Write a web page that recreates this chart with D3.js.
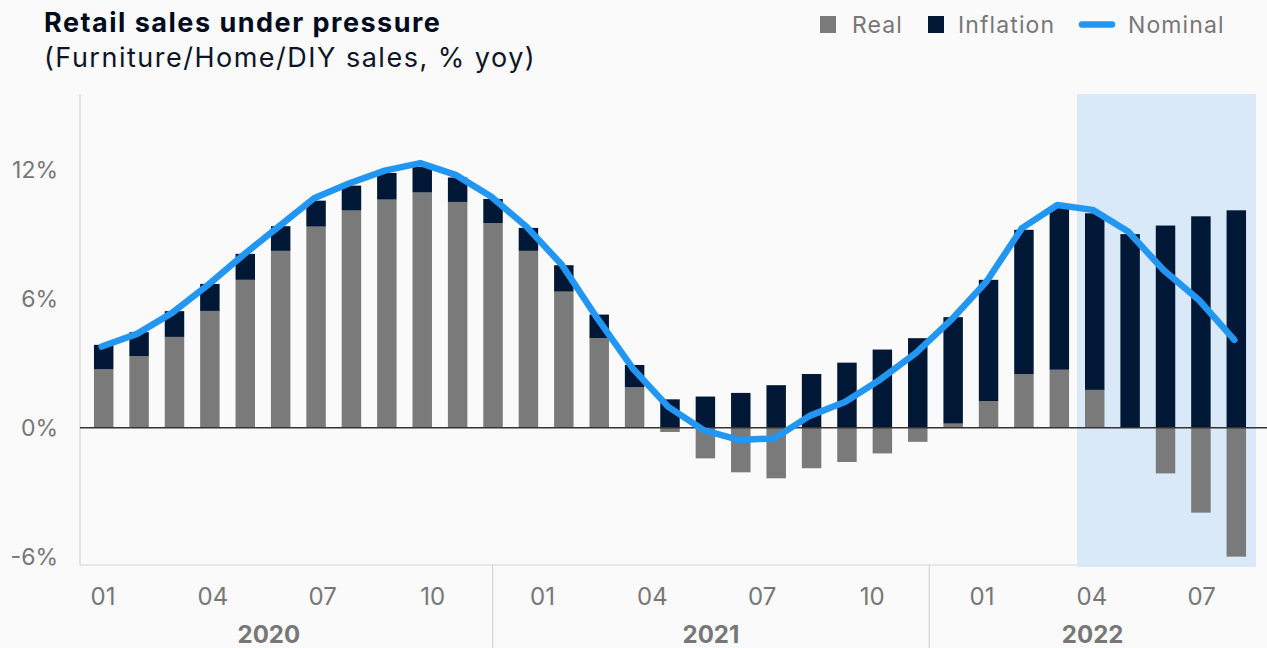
<!DOCTYPE html>
<html>
<head>
<meta charset="utf-8">
<script src="https://cdn.jsdelivr.net/npm/d3@7"></script>
<style>
  body { margin: 0; background: #fafafa; }
  svg { display: block; font-family: Inter, "Noto Sans", sans-serif; }
</style>
</head>
<body>
<div id="chart"></div>
<script>
// --- data ----------------------------------------------------------------
// bars: one per month, the last five sit in the shaded window
var barIdx = d3.range(33);
var real = [2.72, 3.33, 4.23, 5.44, 6.89, 8.24, 9.37, 10.12, 10.63, 10.96, 10.52, 9.53,
            8.24, 6.34, 4.18, 1.88, -0.2, -1.43, -2.08, -2.36, -1.89, -1.6, -1.2, -0.66,
            0.19, 1.24, 2.49, 2.70, 1.76, 0.0, -2.13, -3.96, -6.01];
var inflation = [1.14, 1.12, 1.20, 1.26, 1.21, 1.15, 1.21, 1.16, 1.24, 1.20, 1.14, 1.13,
                 1.07, 1.23, 1.09, 1.04, 1.32, 1.45, 1.62, 1.98, 2.50, 3.03, 3.64, 4.17,
                 4.96, 5.65, 6.73, 7.57, 8.23, 9.02, 9.42, 9.85, 10.13];
var nominal = [3.78, 4.37, 5.36, 6.65, 8.05, 9.37, 10.69, 11.39, 11.98, 12.33, 11.78, 10.77,
               9.37, 7.59, 5.10, 2.77, 0.98, -0.11, -0.57, -0.5, 0.55, 1.2, 2.25, 3.47,
               5.02, 6.81, 9.30, 10.38, 10.15, 9.14, 7.35, 5.95, 4.09];
var shadeFrom = 28;

// axis labels
var monthTicks = [0, 3, 6, 9, 12, 15, 18, 21, 24, 27, 30];
var monthLabels = ["01", "04", "07", "10", "01", "04", "07", "10", "01", "04", "07"];
var years = ["2020", "2021", "2022"];
var yearBreaks = [10.64, 22.56];   // in months from 2020-01, as drawn in the source
var yTicks = [-6, 0, 6, 12];

var W = 1267, H = 648;
var mLeft = 80, mTop = 94, mBottom = 565, plotRight = 1256;

var svg = d3.select("#chart").append("svg")
  .attr("width", W).attr("height", H);

svg.append("rect").attr("width", W).attr("height", H).style("fill", "#fafafa");

var x = d3.scaleBand().domain(barIdx).range([86, 1254])
  .paddingInner(0.45).paddingOuter(0.225);
var xm = d3.scaleLinear().domain([0, 30]).range([103, 1201.7]);
var y = d3.scaleLinear().domain([-6.4, 15.55]).range([mBottom, mTop]);

var shadeX = x(shadeFrom) - x.step() * x.paddingInner() / 2;

// axis frame (left + bottom)
svg.append("line")
  .attr("x1", mLeft).attr("y1", mTop).attr("x2", mLeft).attr("y2", mBottom)
  .style("stroke", "#d4d4d4").style("stroke-width", 1.2);
svg.append("line")
  .attr("x1", mLeft).attr("y1", mBottom).attr("x2", plotRight).attr("y2", mBottom)
  .style("stroke", "#d4d4d4").style("stroke-width", 1.2);

// shaded window
svg.append("rect")
  .attr("x", shadeX)
  .attr("y", mTop)
  .attr("width", plotRight - shadeX)
  .attr("height", mBottom + 2 - mTop)
  .style("fill", "#d9e9f8");

// year separators
yearBreaks.forEach(function(m) {
  svg.append("line")
    .attr("x1", xm(m)).attr("y1", mBottom).attr("x2", xm(m)).attr("y2", H)
    .style("stroke", "#d4d4d4").style("stroke-width", 1.2);
});

// bars: real from zero, inflation stacked on top of positive real (or from zero)
var bars = svg.append("g");
barIdx.forEach(function(i) {
  var r = real[i], inf = inflation[i];
  var base = Math.max(r, 0);
  bars.append("rect")
    .attr("x", x(i)).attr("width", x.bandwidth())
    .attr("y", y(Math.max(r, 0))).attr("height", Math.abs(y(r) - y(0)))
    .style("fill", "#7a7a7a");
  bars.append("rect")
    .attr("x", x(i)).attr("width", x.bandwidth())
    .attr("y", y(base + inf)).attr("height", y(base) - y(base + inf))
    .style("fill", "#001836");
});

// zero line
svg.append("line")
  .attr("x1", mLeft).attr("y1", y(0)).attr("x2", W).attr("y2", y(0))
  .style("stroke", "#333333").style("stroke-width", 1.5);

// nominal line
var line = d3.line()
  .x(function(d, i) { return x(i) + x.bandwidth() / 2 - 2; })
  .y(function(d) { return y(d); });
svg.append("path")
  .datum(nominal)
  .attr("d", line)
  .style("fill", "none")
  .style("stroke", "#2196f3")
  .style("stroke-width", 6.5)
  .style("stroke-linejoin", "round")
  .style("stroke-linecap", "round");

// y tick labels
svg.selectAll(".ytick").data(yTicks).enter().append("text")
  .attr("x", 58).attr("y", function(d) { return y(d); })
  .attr("dy", "0.36em")
  .attr("text-anchor", "end")
  .style("font-size", "23px").style("fill", "#777777")
  .text(function(d) { return d + "%"; });

// month labels
svg.selectAll(".mtick").data(monthTicks).enter().append("text")
  .attr("x", function(d) { return xm(d); }).attr("y", 605)
  .attr("text-anchor", "middle")
  .style("font-size", "24px").style("fill", "#777777")
  .text(function(d, i) { return monthLabels[i]; });

// year labels, centred between separators
var yearEdges = [45, xm(yearBreaks[0]), xm(yearBreaks[1]), plotRight];
years.forEach(function(yr, i) {
  svg.append("text")
    .attr("x", (yearEdges[i] + yearEdges[i + 1]) / 2).attr("y", 643)
    .attr("text-anchor", "middle")
    .style("font-size", "24px").style("font-weight", "bold").style("fill", "#777777")
    .text(yr);
});

// title
svg.append("text").attr("x", 44).attr("y", 32)
  .style("font-size", "27px").style("font-weight", "bold").style("fill", "#000c1e")
  .style("letter-spacing", "1.5px")
  .text("Retail sales under pressure");
svg.append("text").attr("x", 44).attr("y", 67)
  .style("font-size", "27px").style("fill", "#0d1526")
  .style("letter-spacing", "1.5px")
  .text("(Furniture/Home/DIY sales, % yoy)");

// legend
var lg = svg.append("g").style("font-size", "23px").style("fill", "#777777").style("letter-spacing", "1.1px");
lg.append("rect").attr("x", 820).attr("y", 16).attr("width", 16).attr("height", 17).style("fill", "#7a7a7a");
lg.append("text").attr("x", 852).attr("y", 33).text("Real");
lg.append("rect").attr("x", 928).attr("y", 16).attr("width", 16).attr("height", 17).style("fill", "#001836");
lg.append("text").attr("x", 958).attr("y", 33).text("Inflation");
lg.append("line").attr("x1", 1082).attr("y1", 24.5).attr("x2", 1112).attr("y2", 24.5)
  .style("stroke", "#2196f3").style("stroke-width", 6.5).style("stroke-linecap", "round");
lg.append("text").attr("x", 1128).attr("y", 33).text("Nominal");
</script>
</body>
</html>
